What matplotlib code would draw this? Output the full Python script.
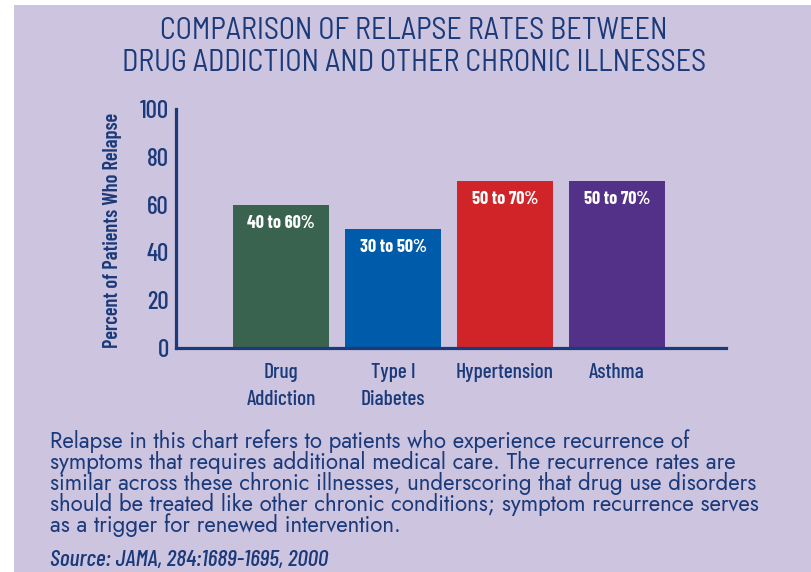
#!/usr/bin/env python3
"""Relapse rates: drug addiction vs other chronic illnesses (bar chart)."""

import matplotlib.pyplot as plt
from matplotlib import font_manager
from matplotlib.patches import Rectangle

# data
categories = ["Drug\nAddiction", "Type I\nDiabetes", "Hypertension", "Asthma"]
relapse_pct = [60, 50, 70, 70]
range_labels = ["40 to 60%", "30 to 50%", "50 to 70%", "50 to 70%"]
bar_colors = ["#3A634F", "#005BAA", "#D02428", "#533189"]
yticks = [0, 20, 40, 60, 80, 100]

title_lines = ["COMPARISON OF RELAPSE RATES BETWEEN",
               "DRUG ADDICTION AND OTHER CHRONIC ILLNESSES"]
note_lines = [
    "Relapse in this chart refers to patients who experience recurrence of",
    "symptoms that requires additional medical care. The recurrence rates are",
    "similar across these chronic illnesses, underscoring that drug use disorders",
    "should be treated like other chronic conditions; symptom recurrence serves",
    "as a trigger for renewed intervention.",
]
source = "Source: JAMA, 284:1689-1695, 2000"

NAVY = "#1B3A7A"
PANEL = "#CDC4E0"
W, H = 811, 572

installed = {f.name for f in font_manager.fontManager.ttflist}


def pick(*names):
    for n in names:
        if n in installed:
            return n
    return "DejaVu Sans"


COND = pick("Barlow Condensed", "Archivo Narrow", "Asap Condensed")
BODY = pick("Jost", "League Spartan", "Lato")
TITLE = pick("Barlow Semi Condensed", "Saira", "Barlow Condensed")

fig = plt.figure(figsize=(W / 100, H / 100), dpi=100)
fig.patch.set_facecolor("white")
# lavender panel (white strip on top and left)
fig.patches.append(Rectangle((14 / W, 0), 1, 1 - 5 / H, transform=fig.transFigure,
                             facecolor=PANEL, edgecolor="none", zorder=-5))
renderer = fig.canvas.get_renderer()


def fit(t, px, vertical=False):
    """scale a text's font size so its box is px wide (or tall)"""
    bb = t.get_window_extent(renderer)
    size = bb.height if vertical else bb.width
    t.set_fontsize(t.get_fontsize() * px / size)
    return t.get_fontsize()


ax = fig.add_axes([176 / W, 224 / H, 550 / W, 239 / H])
ax.set_facecolor("none")

x = list(range(len(categories)))
bars = ax.bar(x, relapse_pct, width=0.857, color=bar_colors, zorder=2)
bar_txt = []
for b, lab in zip(bars, range_labels):
    t = ax.text(b.get_x() + b.get_width() / 2, b.get_height() - 8, lab,
                ha="center", va="center", color="white", fontsize=12,
                fontweight="bold", family=COND)
    bar_txt.append(t)
s = fit(bar_txt[0], 68)
for t in bar_txt:
    t.set_fontsize(s)

ax.set_xlim(-0.9375, 3.973)
ax.set_ylim(0, 100)
ax.set_yticks(yticks)
ax.set_yticklabels([str(t) for t in yticks], fontsize=18, color=NAVY,
                   family=COND, fontweight="medium")
ax.set_xticks(x)
xlabs = ax.set_xticklabels(categories, fontsize=14, color=NAVY, linespacing=1.5,
                           family=COND, fontweight="medium")
ax.tick_params(axis="both", length=0)
ax.tick_params(axis="y", pad=5)
ax.tick_params(axis="x", pad=11)
for side in ("top", "right"):
    ax.spines[side].set_visible(False)
for side in ("left", "bottom"):
    ax.spines[side].set_color(NAVY)
    ax.spines[side].set_linewidth(2.3)

s = fit(xlabs[2], 98)
for t in xlabs:
    t.set_fontsize(s)

ylab = ax.set_ylabel("Percent of Patients Who Relapse", fontsize=16, color=NAVY,
                     family=COND, fontweight="semibold", va="center")
ax.yaxis.set_label_coords((113 - 176) / 550, (348 - 230.5) / 239)
fit(ylab, 235, vertical=True)

# title
for i, (line, px) in enumerate(zip(title_lines, [508, 586])):
    t = fig.text(414 / W, 1 - (31 + 32 * i) / H, line, ha="center", va="center",
                 color=NAVY, fontsize=17, family=TITLE)
    fit(t, px)

# footnote paragraph, one baseline per line
note_txt = []
for i, line in enumerate(note_lines):
    t = fig.text(50 / W, 1 - (448 + 21 * i) / H, line, ha="left", va="baseline",
                 color=NAVY, fontsize=15, family=BODY, fontweight="medium")
    note_txt.append(t)
s = fit(note_txt[3], 712)
for t in note_txt:
    t.set_fontsize(s)

t = fig.text(50 / W, 1 - 566 / H, source, ha="left", va="baseline", color=NAVY,
             fontsize=15, style="italic", family=COND, fontweight="medium")
fit(t, 278)

fig.savefig("out.png", dpi=100)
